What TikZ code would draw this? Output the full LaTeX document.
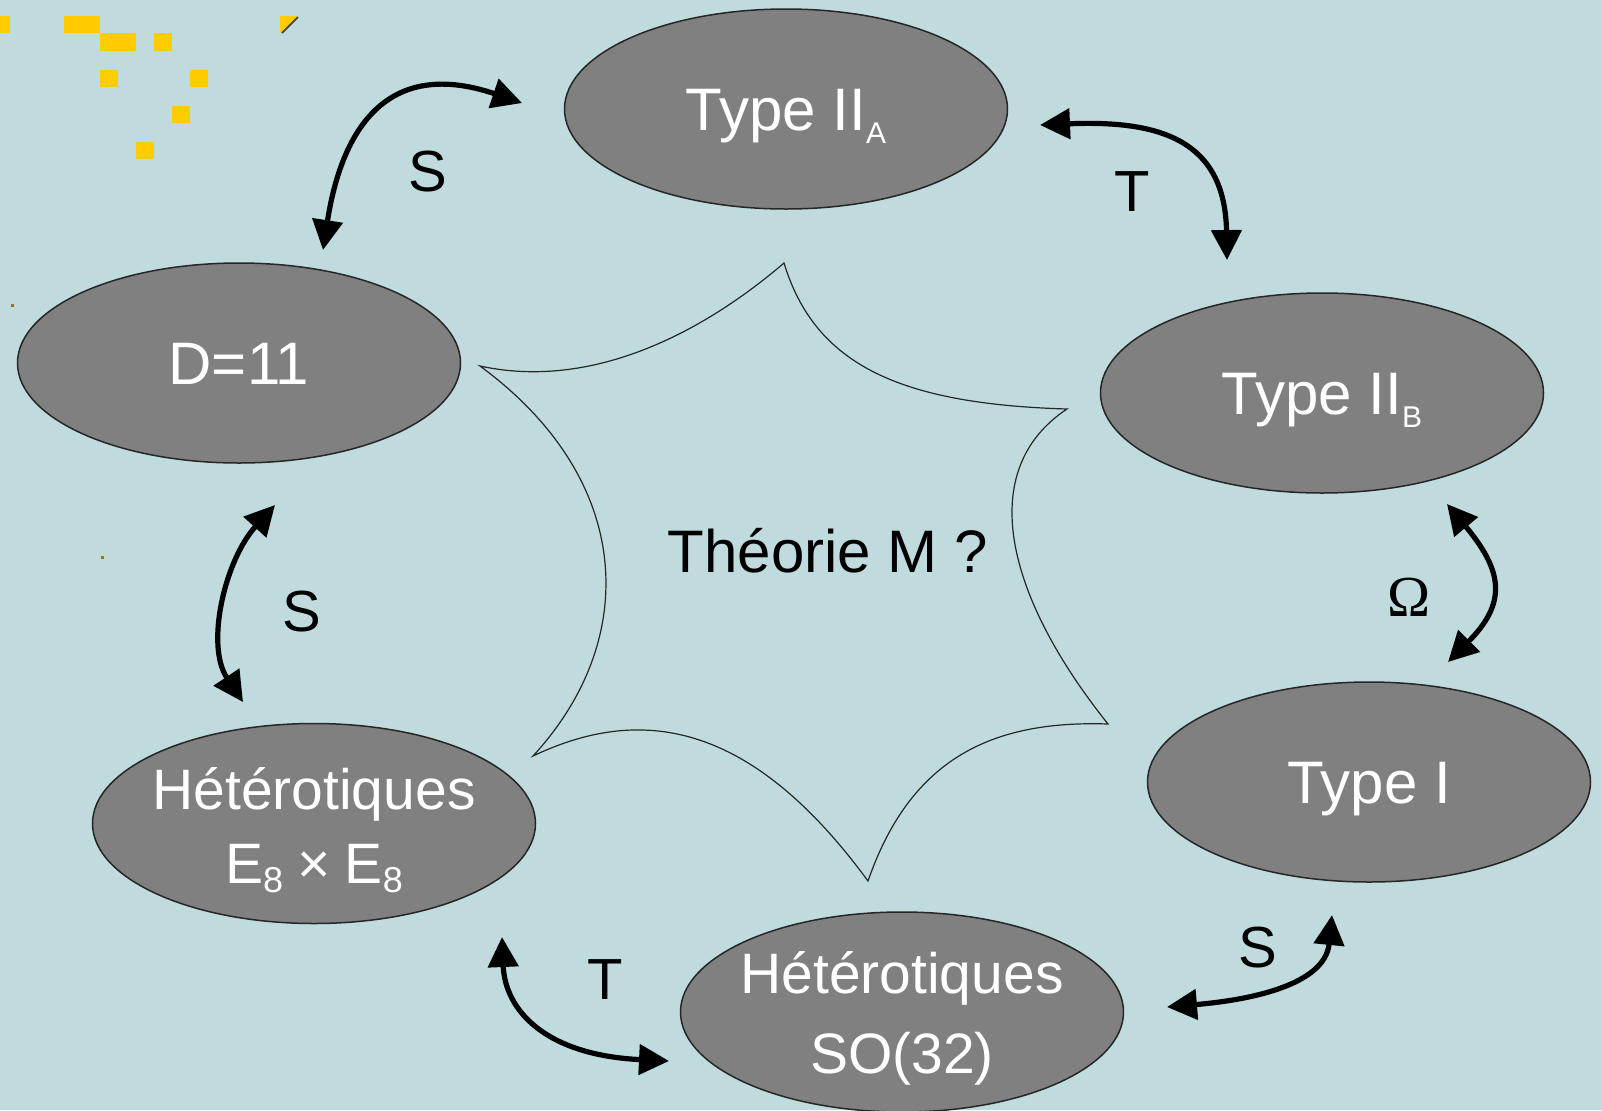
\documentclass[tikz,border=0pt]{standalone}
\usepackage{fontspec}
\setmainfont{Liberation Sans}
\newfontfamily\seriffam{Liberation Serif}
\usetikzlibrary{arrows.meta,shapes.geometric}
\definecolor{bg}{HTML}{C0DBDE}
\definecolor{gold}{HTML}{FFCC00}
\definecolor{ellfill}{HTML}{808080}
\newcommand\smallsub[1]{\raisebox{-6.5pt}{\fontsize{15}{15}\selectfont #1}}
\newcommand\eightsub{\raisebox{-4.5pt}{\fontsize{18}{18}\selectfont 8}}
\begin{document}
\begin{tikzpicture}[x=0.5pt,y=-0.5pt,
  theory/.style={ellipse, draw=black!85, line width=0.75pt, fill=ellfill,
    minimum width=221.5pt, minimum height=100pt, inner sep=0pt},
  big/.style={font=\fontsize{30}{36}\selectfont, text=white, inner sep=0pt,
    text height=21.5pt, text depth=0pt},
  het/.style={text=white, inner sep=0pt, align=center, anchor=base},
  dual/.style={line width=2.6pt,
    {Triangle[length=15pt,width=15pt]}-{Triangle[length=15pt,width=15pt]}},
  lbl/.style={font=\fontsize{29}{30}\selectfont, inner sep=0pt},
  star/.style={draw=black!85, line width=0.6pt}]

\fill[bg] (0,0) rectangle (1602,1110);
\useasboundingbox (0,0) rectangle (1602,1110);

% corner decoration
\begin{scope}[fill=gold]
  \fill (0,16) rectangle (10,33);
  \fill (64,16) rectangle (100,33);
  \fill (100,33) rectangle (136,51);
  \fill (154,33) rectangle (172,51);
  \fill (100,70) rectangle (118,87);
  \fill (190,70) rectangle (208,87);
  \fill (172,106) rectangle (190,123);
  \fill (136,142) rectangle (154,159);
  \fill (280,16) -- (298,16) -- (280,33) -- cycle;
\end{scope}
\draw[black!70, line width=0.9pt] (282,33) -- (298,17);
\fill[gold!60!black] (11,304) rectangle (14,307);
\fill[gold!60!black] (101,556) rectangle (104,559);

% star
\coordinate (p1) at (784,263);
\coordinate (p2) at (1067,409);
\coordinate (p3) at (1108,724);
\coordinate (p4) at (868,881);
\coordinate (p5) at (533,756);
\coordinate (p6) at (480,366);
\draw[star] (p1) .. controls (815,365) and (900,404) .. (p2)
  .. controls (975,470) and (1005,595) .. (p3)
  .. controls (990,720) and (910,760) .. (p4)
  .. controls (750,720) and (640,705) .. (p5)
  .. controls (640,640) and (635,480) .. (p6)
  .. controls (590,390) and (700,335) .. (p1) -- cycle;
\node[font=\fontsize{30}{36}\selectfont, inner sep=0pt, anchor=base] (theorie) at (828,572.6) {Théorie M ?};

% theories
\node[theory] (iia) at (786,109) {};
\node[big] (iia-t) at (iia.center) {Type II\smallsub{A}};
\node[theory] (d11) at (239,363) {};
\node[big] (d11-t) at (d11.center) {D=11};
\node[theory] (iib) at (1322,393) {};
\node[big] (iib-t) at (iib.center) {Type II\smallsub{B}};
\node[theory] (ti) at (1369,782) {};
\node[big] (ti-t) at (ti.center) {Type I};
\node[theory] (e8) at (314,823.5) {};
\node[het, font=\fontsize{28.5}{37}\selectfont] (e8-t) at (314,883) {Hétérotiques\\E\eightsub\hspace{0.25em}×\hspace{0.25em}E\eightsub};
\node[theory] (so) at (902,1012) {};
\node[het, font=\fontsize{28.5}{40}\selectfont] (so-t) at (902,1073) {Hétérotiques\\SO(32)};

% arrows
\coordinate (a1s) at (323,250);  \coordinate (a1e) at (522,103);
\coordinate (a2s) at (1040,125); \coordinate (a2e) at (1227,260);
\coordinate (a3s) at (1447,504); \coordinate (a3e) at (1448,662);
\coordinate (a4s) at (1167,1007);\coordinate (a4e) at (1332,915);
\coordinate (a5s) at (502,937);  \coordinate (a5e) at (669,1061);
\coordinate (a6s) at (275,505);  \coordinate (a6e) at (243,702);
\draw[dual] (a1s) .. controls (340,140) and (380,55) .. (a1e);
\draw[dual] (a2s) .. controls (1160,120) and (1225,140) .. (a2e);
\draw[dual] (a3s) .. controls (1502,570) and (1508,602) .. (a3e);
\draw[dual] (a4s) .. controls (1250,1000) and (1325,985) .. (a4e);
\draw[dual] (a5s) .. controls (505,1010) and (545,1055) .. (a5e);
\draw[dual] (a6s) .. controls (225,560) and (205,645) .. (a6e);

% labels
\node[lbl] (l1) at (428,172) {S};
\node[lbl] (l2) at (1132,192) {T};
\node[font=\seriffam\fontsize{29}{30}\selectfont, inner sep=0pt] (l3) at (1409,597) {Ω};
\node[lbl] (l4) at (1258,948) {S};
\node[lbl] (l5) at (605,980) {T};
\node[lbl] (l6) at (302,612) {S};
\end{tikzpicture}
\end{document}
